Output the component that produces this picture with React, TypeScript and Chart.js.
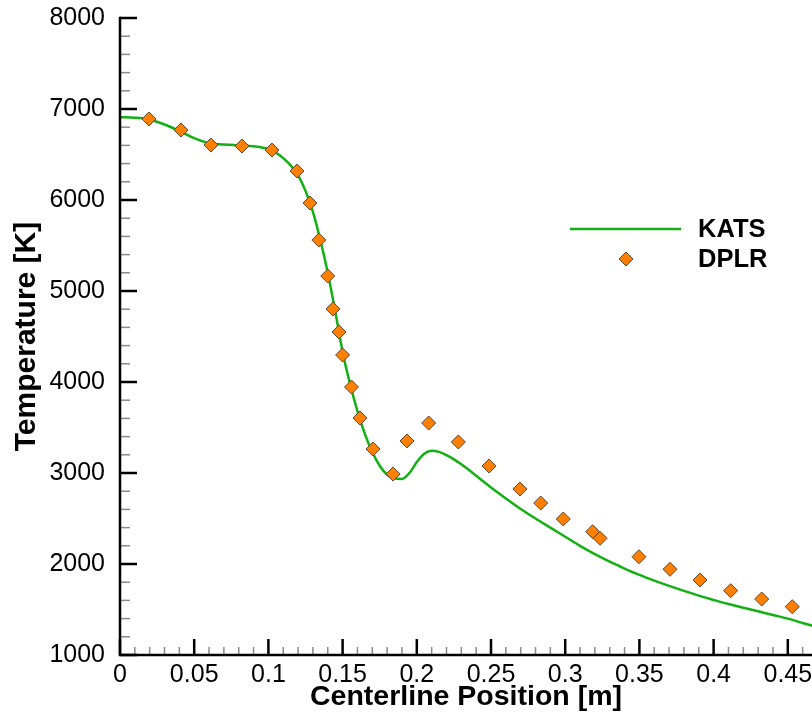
import React, { useEffect, useRef } from 'react';
import { Chart, registerables } from 'chart.js';

Chart.register(...registerables);

// KATS solution (line)
const katsX = [0, 0.01, 0.02, 0.03, 0.04, 0.05, 0.06, 0.07, 0.08, 0.09, 0.1, 0.105, 0.11, 0.115, 0.12, 0.125, 0.13, 0.135, 0.14, 0.145, 0.15, 0.155, 0.16, 0.165, 0.17, 0.175, 0.18, 0.185, 0.19, 0.195, 0.2, 0.205, 0.21, 0.215, 0.22, 0.225, 0.23, 0.24, 0.25, 0.26, 0.27, 0.28, 0.29, 0.3, 0.31, 0.32, 0.33, 0.34, 0.35, 0.36, 0.37, 0.38, 0.39, 0.4, 0.41, 0.42, 0.43, 0.44, 0.45, 0.46, 0.47];
const katsT = [6910, 6905, 6885, 6830, 6760, 6680, 6625, 6610, 6600, 6590, 6560, 6520, 6460, 6380, 6270, 6100, 5870, 5560, 5200, 4780, 4330, 3980, 3680, 3430, 3230, 3080, 2980, 2940, 2935, 3000, 3120, 3212, 3245, 3232, 3197, 3150, 3095, 2970, 2840, 2720, 2605, 2500, 2400, 2300, 2200, 2108, 2025, 1950, 1880, 1818, 1760, 1705, 1652, 1605, 1560, 1520, 1480, 1440, 1400, 1352, 1305];

// DPLR solution (markers)
const dplrX = [0.0195, 0.0411, 0.0613, 0.0822, 0.1024, 0.1193, 0.128, 0.134, 0.140, 0.1435, 0.1476, 0.150, 0.156, 0.1617, 0.1705, 0.184, 0.1934, 0.208, 0.228, 0.2487, 0.2695, 0.2835, 0.2987, 0.3185, 0.3235, 0.3497, 0.3706, 0.3908, 0.4115, 0.4324, 0.453];
const dplrT = [6890, 6769, 6604, 6593, 6549, 6319, 5967, 5560, 5165, 4802, 4549, 4297, 3945, 3604, 3264, 2989, 3352, 3549, 3341, 3077, 2824, 2670, 2495, 2355, 2282, 2080, 1942, 1824, 1707, 1615, 1531];

const seriesNames = ['KATS', 'DPLR'];
const xTickValues = [0, 0.05, 0.1, 0.15, 0.2, 0.25, 0.3, 0.35, 0.4, 0.45];
const yTickValues = [1000, 2000, 3000, 4000, 5000, 6000, 7000, 8000];
const xTitle = 'Centerline Position [m]';
const yTitle = 'Temperature [K]';

const FONT = '"Liberation Sans", Arial, Helvetica, sans-serif';
const LINE_COLOR = '#12B012';
const MARK_FILL = '#FF7F00';
const MARK_BORDER = '#5A4632';

const axesPlugin = {
  id: 'insideAxes',
  afterDatasetsDraw(chart: any) {
    const { ctx, chartArea, scales } = chart;
    const xs = scales.x;
    const ys = scales.y;
    const left = chartArea.left;
    const bottom = chartArea.bottom;
    const top = ys.getPixelForValue(ys.max);
    ctx.save();
    ctx.lineCap = 'butt';
    // minor x ticks
    ctx.strokeStyle = '#8a8a8a';
    ctx.lineWidth = 1.5;
    for (let i = 1; i / 100 <= xs.max + 1e-9; i++) {
      if (i % 5 === 0) continue;
      const px = xs.getPixelForValue(i / 100);
      ctx.beginPath();
      ctx.moveTo(px, bottom);
      ctx.lineTo(px, bottom - 8);
      ctx.stroke();
    }
    // minor y ticks
    for (let v = ys.min + 200; v < ys.max; v += 200) {
      if (v % 1000 === 0) continue;
      const py = ys.getPixelForValue(v);
      ctx.beginPath();
      ctx.moveTo(left, py);
      ctx.lineTo(left + 10, py);
      ctx.stroke();
    }
    // major ticks
    ctx.strokeStyle = '#000';
    ctx.lineWidth = 2.5;
    xTickValues.forEach((v) => {
      const px = xs.getPixelForValue(v);
      ctx.beginPath();
      ctx.moveTo(px, bottom);
      ctx.lineTo(px, bottom - 16);
      ctx.stroke();
    });
    yTickValues.forEach((v) => {
      const py = ys.getPixelForValue(v);
      ctx.beginPath();
      ctx.moveTo(left, py);
      ctx.lineTo(left + 17, py);
      ctx.stroke();
    });
    // axis lines
    ctx.lineWidth = 2.5;
    ctx.beginPath();
    ctx.moveTo(left, top - 1.25);
    ctx.lineTo(left, bottom);
    ctx.lineTo(chartArea.right, bottom);
    ctx.stroke();

    // legend
    const ds0 = chart.data.datasets[0];
    const ds1 = chart.data.datasets[1];
    ctx.strokeStyle = ds0.borderColor;
    ctx.lineWidth = 2.5;
    ctx.beginPath();
    ctx.moveTo(570, 229);
    ctx.lineTo(681, 229);
    ctx.stroke();
    ctx.fillStyle = ds1.backgroundColor;
    ctx.strokeStyle = ds1.borderColor;
    ctx.lineWidth = 1;
    const r = 7;
    const cx = 626, cy = 259;
    ctx.beginPath();
    ctx.moveTo(cx - r, cy);
    ctx.lineTo(cx, cy - r);
    ctx.lineTo(cx + r, cy);
    ctx.lineTo(cx, cy + r);
    ctx.closePath();
    ctx.fill();
    ctx.stroke();
    ctx.fillStyle = '#000';
    ctx.font = `bold 25.5px ${FONT}`;
    ctx.textAlign = 'left';
    ctx.textBaseline = 'middle';
    ctx.fillText(ds0.label, 698, 230);
    ctx.fillText(ds1.label, 698, 260);
    ctx.restore();
  },
};

export default function App() {
  const ref = useRef<HTMLCanvasElement | null>(null);
  useEffect(() => {
    if (!ref.current) return;
    const chart = new Chart(ref.current, {
      type: 'scatter',
      data: {
        datasets: [
          {
            label: seriesNames[0],
            type: 'line',
            data: katsX.map((x, i) => ({ x, y: katsT[i] })),
            borderColor: LINE_COLOR,
            backgroundColor: LINE_COLOR,
            borderWidth: 2.5,
            pointRadius: 0,
            cubicInterpolationMode: 'monotone',
            fill: false,
            order: 2,
          },
          {
            label: seriesNames[1],
            data: dplrX.map((x, i) => ({ x, y: dplrT[i] })),
            pointStyle: 'rectRot',
            pointRadius: 7,
            backgroundColor: MARK_FILL,
            borderColor: MARK_BORDER,
            borderWidth: 1,
            showLine: false,
            order: 1,
          },
        ],
      },
      options: {
        responsive: false,
        animation: false,
        layout: { padding: { top: 18, right: 0, bottom: 0, left: 0 }, autoPadding: false },
        plugins: { legend: { display: false }, tooltip: { enabled: false } },
        scales: {
          x: {
            type: 'linear',
            min: 0,
            max: 0.4663,
            afterBuildTicks: (s: any) => {
              s.ticks = xTickValues.map((v) => ({ value: v }));
            },
            afterFit: (s: any) => {
              s.height = 62;
              s.paddingLeft = 0;
              s.paddingRight = 0;
            },
            grid: { display: false },
            border: { display: false },
            ticks: {
              color: '#000',
              font: { family: FONT, size: 25 },
              padding: -3,
              maxRotation: 0,
              autoSkip: false,
              callback: (v: any) => String(Number(Number(v).toFixed(2))),
            },
            title: {
              display: true,
              text: xTitle,
              color: '#000',
              font: { family: FONT, size: 28.5, weight: 'bold' },
              padding: { top: 0, bottom: 3 },
            },
          },
          y: {
            type: 'linear',
            min: 1000,
            max: 8000,
            afterBuildTicks: (s: any) => {
              s.ticks = yTickValues.map((v) => ({ value: v }));
            },
            afterFit: (s: any) => {
              s.width = 120;
              s.paddingTop = 0;
              s.paddingBottom = 0;
            },
            grid: { display: false },
            border: { display: false },
            ticks: {
              color: '#000',
              font: { family: FONT, size: 25 },
              padding: 7,
              autoSkip: false,
              callback: (v: any) => String(v),
            },
            title: {
              display: true,
              text: yTitle,
              color: '#000',
              font: { family: FONT, size: 30, weight: 'bold' },
              padding: { top: 9, bottom: 0 },
            },
          },
        },
      },
      plugins: [axesPlugin],
    } as any);
    return () => chart.destroy();
  }, []);
  return (
    <div style={{ position: 'absolute', left: 0, top: 0, width: 812, height: 717, background: '#fff' }}>
      <canvas ref={ref} width={812} height={717} style={{ display: 'block' }} />
    </div>
  );
}
